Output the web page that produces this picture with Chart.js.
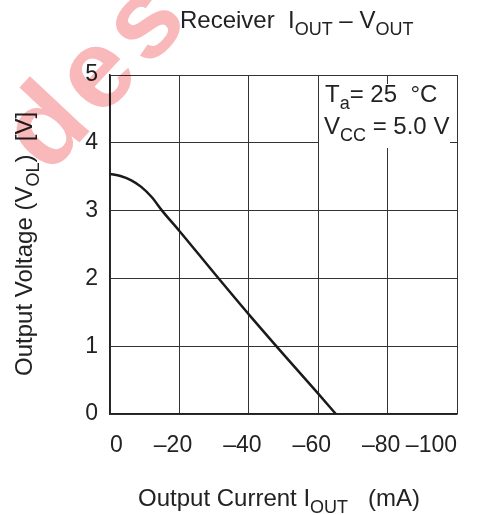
<!DOCTYPE html>
<html><head><meta charset="utf-8">
<script src="https://cdn.jsdelivr.net/npm/chart.js@4"></script>
<style>html,body{margin:0;padding:0;background:#fff;} #wrap{position:relative;width:479px;height:515px;}</style>
</head><body><div id="wrap"><canvas id="c" width="479" height="515"></canvas></div>
<script>
const currentMA = [0, -3, -6, -9, -12, -15, -20, -30, -40, -50, -60, -65.1];
const voltageV  = [3.54, 3.51, 3.45, 3.35, 3.20, 3.00, 2.70, 2.08, 1.47, 0.88, 0.30, 0];
const xTickValues = [-100, -80, -60, -40, -20, 0];
const yTickValues = [0, 1, 2, 3, 4, 5];
const titleRuns = [["Receiver  I", 0], ["OUT", 1], [" \u2013 V", 0], ["OUT", 1]];
const xTitleRuns = [["Output Current I", 0], ["OUT", 1], ["   (mA)", 0]];
const yTitleRuns = [["Output Voltage (V", 0], ["OL", 1], [")  [V]", 0]];
const noteLine1 = [["T", 0], ["a", 1], ["= 25  \u00B0C", 0]];
const noteLine2 = [["V", 0], ["CC", 1], [" = 5.0 V", 0]];
const watermarkText = "des";

const FONT = "'Liberation Sans', Arial, sans-serif";
const INK = "#222";

function drawRuns(ctx, runs, x, y, size) {
  ctx.textAlign = "left";
  ctx.textBaseline = "alphabetic";
  ctx.fillStyle = INK;
  for (const [t, sub] of runs) {
    ctx.font = (sub ? size * 0.75 : size) + "px " + FONT;
    ctx.fillText(t, x, sub ? y + size * 0.3 : y);
    x += ctx.measureText(t).width;
  }
}

const decor = {
  id: "decor",
  beforeDatasetsDraw(chart) {
    const ctx = chart.ctx;
    ctx.save();
    ctx.fillStyle = "#fff";
    ctx.fillRect(319, 84, 131, 64);
    drawRuns(ctx, noteLine1, 325, 102, 24);
    drawRuns(ctx, noteLine2, 324, 134, 24);
    ctx.restore();
  },
  afterDraw(chart) {
    const ctx = chart.ctx;
    ctx.save();
    drawRuns(ctx, titleRuns, 180, 28, 24);
    drawRuns(ctx, xTitleRuns, 138, 506, 24);
    ctx.translate(32, 376);
    ctx.rotate(-Math.PI / 2);
    drawRuns(ctx, yTitleRuns, 0, 0, 24);
    ctx.restore();
    ctx.save();
    ctx.globalCompositeOperation = "multiply";
    ctx.fillStyle = "#f9b9bb";
    ctx.font = "bold 112px " + FONT;
    ctx.letterSpacing = "8px";
    ctx.translate(48, 176);
    ctx.rotate(-47 * Math.PI / 180);
    ctx.textBaseline = "alphabetic";
    ctx.textAlign = "left";
    ctx.fillText(watermarkText, 0, 0);
    ctx.restore();
  }
};

new Chart(document.getElementById("c"), {
  type: "line",
  data: {
    datasets: [{
      data: currentMA.map((x, i) => ({ x: x, y: voltageV[i] })),
      borderColor: "#1a1a1a",
      borderWidth: 2.5,
      pointRadius: 0,
      cubicInterpolationMode: "monotone",
      fill: false
    }]
  },
  options: {
    responsive: false,
    animation: false,
    devicePixelRatio: 1,
    layout: { padding: { top: 75, right: 22, left: 0, bottom: 0 } },
    plugins: { legend: { display: false }, tooltip: { enabled: false }, title: { display: false } },
    scales: {
      x: {
        type: "linear", min: -100, max: 0, reverse: true,
        afterBuildTicks(s) { s.ticks = xTickValues.map(v => ({ value: v })); },
        afterFit(s) { s.height = 101; s.paddingLeft = 0; s.paddingRight = 0; },
        grid: { color: "#333", lineWidth: 1, drawTicks: false },
        border: { display: true, color: "#222", width: 1.5 },
        ticks: {
          font: { family: FONT, size: 23 }, color: INK, padding: 18, maxRotation: 0, autoSkip: false,
          align: "inner",
          callback: v => v === 0 ? "0" : (v === -100 ? "\u2013100" : "\u2013" + Math.abs(v) + "  ")
        }
      },
      y: {
        type: "linear", min: 0, max: 5,
        afterBuildTicks(s) { s.ticks = yTickValues.map(v => ({ value: v })); },
        afterFit(s) { s.width = 110; s.paddingTop = 0; s.paddingBottom = 0; },
        grid: { color: "#333", lineWidth: 1, drawTicks: false },
        border: { display: true, color: "#222", width: 1.5 },
        ticks: { font: { family: FONT, size: 23 }, color: INK, padding: 12 }
      }
    }
  },
  plugins: [decor]
});
</script></body></html>
